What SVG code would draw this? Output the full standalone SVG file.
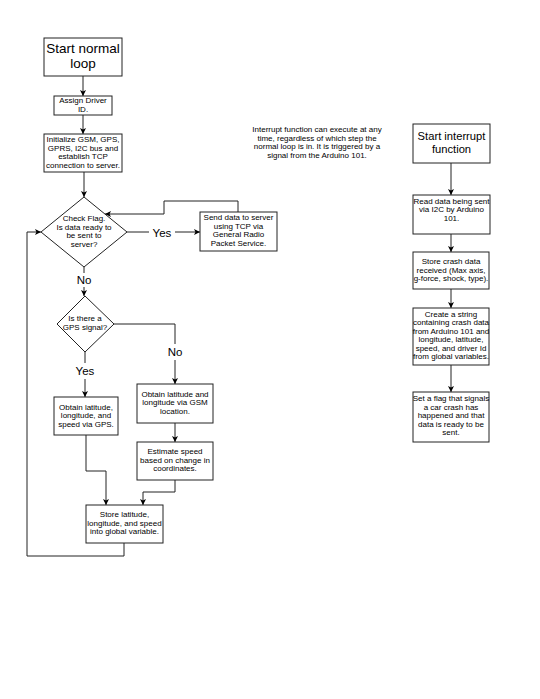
<svg xmlns="http://www.w3.org/2000/svg" width="540" height="699" viewBox="0 0 540 699">
<defs>
<marker id="ah" markerUnits="userSpaceOnUse" markerWidth="7" markerHeight="7" refX="6" refY="3" orient="auto">
<path d="M0,0 L6,3 L0,6 L1.5,3 Z" fill="#000"/>
</marker>
</defs>
<style>
.b{fill:#fff;stroke:#222;stroke-width:1}
.t{font-family:"Liberation Sans",Arial,sans-serif;font-size:8px;text-anchor:middle;fill:#000}
.big{font-family:"Liberation Sans",Arial,sans-serif;text-anchor:middle;fill:#000}
.c{fill:none;stroke:#222;stroke-width:1}
.lbl{font-family:"Liberation Sans",Arial,sans-serif;font-size:11.5px;text-anchor:middle;dominant-baseline:central;fill:#000}
</style>
<rect width="540" height="699" fill="#fff"/>
<g id="connectors">
<line class="c" x1="83" y1="76" x2="83" y2="96" marker-end="url(#ah)"/>
<line class="c" x1="83" y1="115" x2="83" y2="134" marker-end="url(#ah)"/>
<line class="c" x1="84" y1="172" x2="84" y2="197" marker-end="url(#ah)"/>
<line class="c" x1="127" y1="232" x2="149" y2="232"/>
<line class="c" x1="175" y1="232" x2="200" y2="232" marker-end="url(#ah)"/>
<polyline class="c" points="238,212 238,201 164,201 164,214 105,214" marker-end="url(#ah)"/>
<line class="c" x1="84" y1="267" x2="84" y2="273"/>
<line class="c" x1="84" y1="287" x2="84" y2="296" marker-end="url(#ah)"/>
<polyline class="c" points="114,324 175,324 175,344"/>
<line class="c" x1="175" y1="360" x2="175" y2="384" marker-end="url(#ah)"/>
<line class="c" x1="85" y1="352" x2="85" y2="363"/>
<line class="c" x1="85" y1="379" x2="85" y2="397" marker-end="url(#ah)"/>
<line class="c" x1="175" y1="423" x2="175" y2="442" marker-end="url(#ah)"/>
<polyline class="c" points="86,435 86,471 106,471 106,505" marker-end="url(#ah)"/>
<polyline class="c" points="175,480 175,492 143,492 143,505" marker-end="url(#ah)"/>
<polyline class="c" points="124,543 124,556 27,556 27,232 41,232" marker-end="url(#ah)"/>
<line class="c" x1="451" y1="163" x2="451" y2="195" marker-end="url(#ah)"/>
<line class="c" x1="451" y1="234" x2="451" y2="252" marker-end="url(#ah)"/>
<line class="c" x1="451" y1="289" x2="451" y2="308" marker-end="url(#ah)"/>
<line class="c" x1="451" y1="365" x2="451" y2="392" marker-end="url(#ah)"/>
<text class="lbl" x="162" y="233">Yes</text>
<text class="lbl" x="84" y="280">No</text>
<text class="lbl" x="175" y="352">No</text>
<text class="lbl" x="85" y="371">Yes</text>
</g>
<g id="start-normal">
<rect class="b" x="44" y="38" width="78" height="38" stroke="#000"/>
<text class="big" font-size="13.5" x="83" y="53">Start normal</text>
<text class="big" font-size="13.5" x="83" y="68">loop</text>
</g>
<g id="assign">
<rect class="b" x="54" y="96" width="58" height="19"/>
<text class="t" x="83" y="103">Assign Driver</text>
<text class="t" x="83" y="111.5">ID.</text>
</g>
<g id="init">
<rect class="b" x="44" y="134" width="78" height="38"/>
<text class="t" x="83" y="142">Initialize GSM, GPS,</text>
<text class="t" x="83" y="150.5">GPRS, I2C bus and</text>
<text class="t" x="83" y="159">establish TCP</text>
<text class="t" x="83" y="167.5">connection to server.</text>
</g>
<g id="check-flag">
<polygon class="b" points="84,197 127,232 84,267 41,232"/>
<text class="t" x="84" y="221">Check Flag.</text>
<text class="t" x="84" y="229.5">Is data ready to</text>
<text class="t" x="84" y="238">be sent to</text>
<text class="t" x="84" y="246.5">server?</text>
</g>
<g id="send">
<rect class="b" x="200" y="212" width="77" height="39"/>
<text class="t" x="238.5" y="220">Send data to server</text>
<text class="t" x="238.5" y="228.5">using TCP via</text>
<text class="t" x="238.5" y="237">General Radio</text>
<text class="t" x="238.5" y="245.5">Packet Service.</text>
</g>
<g id="gps-signal">
<polygon class="b" points="85,296 114,324 85,352 57,324"/>
<text class="t" x="85" y="321">Is there a</text>
<text class="t" x="85" y="329.5">GPS signal?</text>
</g>
<g id="gps">
<rect class="b" x="54" y="397" width="64" height="38"/>
<text class="t" x="86" y="409.5">Obtain latitude,</text>
<text class="t" x="86" y="418">longitude, and</text>
<text class="t" x="86" y="426.5">speed via GPS.</text>
</g>
<g id="gsm">
<rect class="b" x="137" y="384" width="76" height="39"/>
<text class="t" x="175" y="396.5">Obtain latitude and</text>
<text class="t" x="175" y="405">longitude via GSM</text>
<text class="t" x="175" y="413.5">location.</text>
</g>
<g id="estimate">
<rect class="b" x="137" y="442" width="76" height="38"/>
<text class="t" x="175" y="454">Estimate speed</text>
<text class="t" x="175" y="462.5">based on change in</text>
<text class="t" x="175" y="471">coordinates.</text>
</g>
<g id="store">
<rect class="b" x="86" y="505" width="77" height="38"/>
<text class="t" x="124.5" y="517">Store latitude,</text>
<text class="t" x="124.5" y="525.5">longitude, and speed</text>
<text class="t" x="124.5" y="534">into global variable.</text>
</g>
<g id="note">
<text class="t" font-size="7.5" x="317" y="132">Interrupt function can execute at any</text>
<text class="t" font-size="7.5" x="317" y="140.5">time, regardless of which step the</text>
<text class="t" font-size="7.5" x="317" y="149">normal loop is in. It is triggered by a</text>
<text class="t" font-size="7.5" x="317" y="157.5">signal from the Arduino 101.</text>
</g>
<g id="start-interrupt">
<rect class="b" x="413" y="124" width="77" height="39" stroke="#000"/>
<text class="big" font-size="11.2" x="451.5" y="140">Start interrupt</text>
<text class="big" font-size="11.2" x="451.5" y="153">function</text>
</g>
<g id="read">
<rect class="b" x="413" y="195" width="77" height="39"/>
<text class="t" x="451.5" y="203.5">Read data being sent</text>
<text class="t" x="451.5" y="212">via I2C by Arduino</text>
<text class="t" x="451.5" y="220.5">101.</text>
</g>
<g id="store-crash">
<rect class="b" x="413" y="252" width="76" height="37"/>
<text class="t" x="451" y="264">Store crash data</text>
<text class="t" x="451" y="272.5">received (Max axis,</text>
<text class="t" x="451" y="281">g-force, shock, type).</text>
</g>
<g id="create-string">
<rect class="b" x="413" y="308" width="76" height="57"/>
<text class="t" x="451" y="316.5">Create a string</text>
<text class="t" x="451" y="325">containing crash data</text>
<text class="t" x="451" y="333.5">from Arduino 101 and</text>
<text class="t" x="451" y="342">longitude, latitude,</text>
<text class="t" x="451" y="350.5">speed, and driver Id</text>
<text class="t" x="451" y="359">from global variables.</text>
</g>
<g id="set-flag">
<rect class="b" x="413" y="392" width="76" height="50"/>
<text class="t" x="451" y="401">Set a flag that signals</text>
<text class="t" x="451" y="409.5">a car crash has</text>
<text class="t" x="451" y="418">happened and that</text>
<text class="t" x="451" y="426.5">data is ready to be</text>
<text class="t" x="451" y="435">sent.</text>
</g>
</svg>
